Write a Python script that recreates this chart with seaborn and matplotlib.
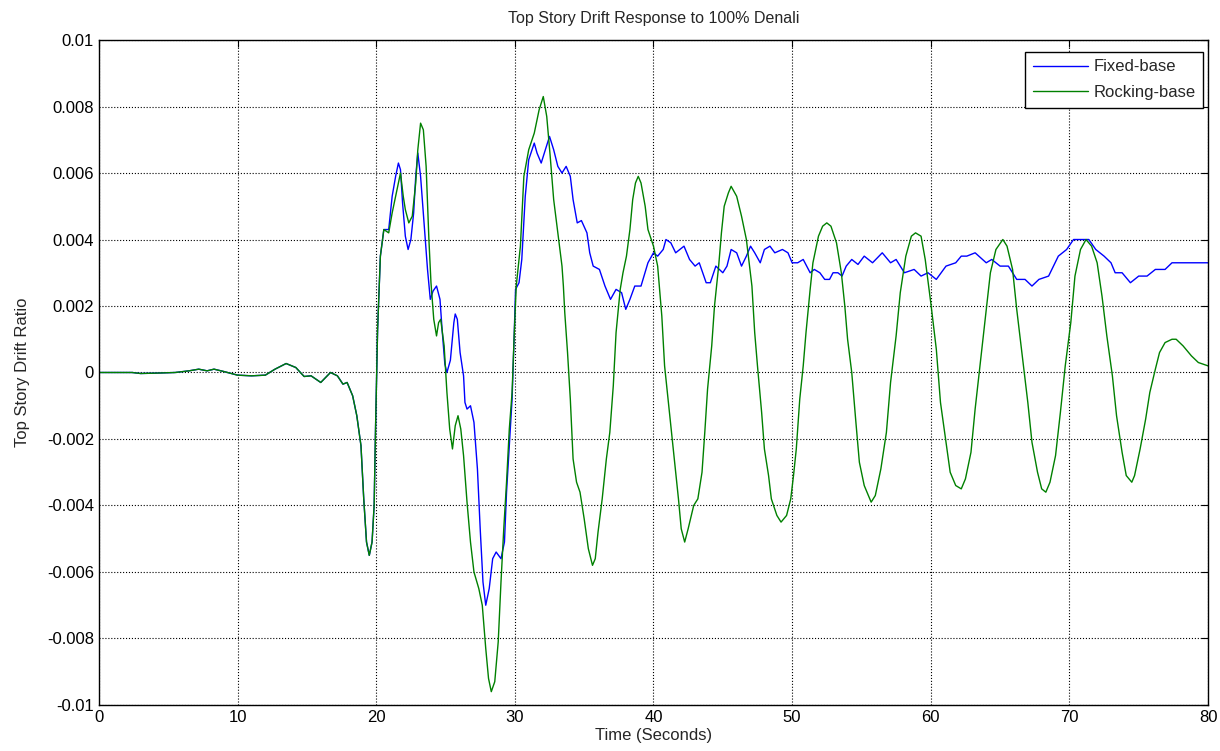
import matplotlib
matplotlib.use('Agg')
import matplotlib.pyplot as plt
import seaborn as sns
import pandas as pd
from matplotlib.ticker import FormatStrFormatter

# Time (s) and drift ratio
early_t = [0, 2.4, 3.0, 4.0, 5.5, 6.5, 7.2, 7.8, 8.3, 9.0, 10.0, 11.0, 12.0, 12.7,
           13.5, 14.2, 14.8, 15.3, 16.0, 16.7, 17.2, 17.6, 17.9, 18.3, 18.6, 18.9,
           19.1, 19.3, 19.5, 19.7, 19.85, 19.95, 20.1, 20.3]
early_v = [0, 0, -0.00003, -0.00002, 0, 0.00005, 0.0001, 0.00005, 0.0001, 0.00003,
           -0.00008, -0.0001, -0.00008, 0.0001, 0.00027, 0.00015, -0.00012, -0.0001,
           -0.0003, 0.0, -0.0001, -0.00035, -0.0003, -0.0007, -0.0013, -0.0022,
           -0.0038, -0.0051, -0.0055, -0.0051, -0.004, -0.0017, 0.0013, 0.0035]

fixed_t = [20.55, 20.9, 21.15, 21.4, 21.6, 21.75, 21.9, 22.1, 22.3, 22.5, 22.7, 22.85,
           23.0, 23.2, 23.45, 23.7, 23.9, 24.1, 24.35, 24.6, 24.75, 24.95, 25.1, 25.35,
           25.6, 25.7, 25.85, 26.05, 26.3, 26.4, 26.55, 26.8, 27.05, 27.3, 27.5, 27.7,
           27.9, 28.15, 28.4, 28.65, 29.0, 29.25, 29.4, 29.6, 29.8, 29.95, 30.05, 30.3,
           30.5, 30.75, 31.0, 31.4, 31.6, 31.9, 32.2, 32.5, 32.8, 33.1, 33.4, 33.7,
           34.0, 34.2, 34.5, 34.8, 35.2, 35.4, 35.65, 36.1, 36.5, 36.9, 37.3, 37.7,
           38.0, 38.3, 38.65, 39.1, 39.6, 40.0, 40.3, 40.7, 40.9, 41.25, 41.6, 42.2,
           42.6, 43.0, 43.3, 43.8, 44.1, 44.5, 45.0, 45.3, 45.6, 46.0, 46.35, 46.7,
           47.0, 47.3, 47.7, 48.0, 48.4, 48.75, 49.3, 49.7, 50.0, 50.4, 50.8, 51.3,
           51.6, 52.0, 52.35, 52.7, 52.95, 53.3, 53.6, 53.9, 54.3, 54.75, 55.2, 55.8,
           56.5, 57.1, 57.5, 58.1, 58.8, 59.3, 59.8, 60.4, 61.1, 61.8, 62.2, 62.6,
           63.2, 64.0, 64.4, 65.0, 65.6, 66.2, 66.8, 67.3, 67.8, 68.5, 69.2, 69.8,
           70.3, 70.9, 71.4, 71.9, 72.5, 73.0, 73.3, 73.8, 74.4, 75.0, 75.6, 76.2,
           76.9, 77.4, 78.1, 79.1, 79.7, 80.0]
fixed_v = [0.0043, 0.0043, 0.0053, 0.0059, 0.0063, 0.0061, 0.0051, 0.0041, 0.0037,
           0.004, 0.0048, 0.0059, 0.0066, 0.0059, 0.0045, 0.0031, 0.0022, 0.00245,
           0.0026, 0.0022, 0.0013, 0.00025, 0.0, 0.00037, 0.0015, 0.00176, 0.0016,
           0.0006, -0.0001, -0.0009, -0.0011, -0.001, -0.0015, -0.0029, -0.0047,
           -0.0063, -0.007, -0.0065, -0.0056, -0.0054, -0.0056, -0.0051, -0.0036,
           -0.0022, -0.0008, 0.0011, 0.0025, 0.0027, 0.0034, 0.0053, 0.0064, 0.0069,
           0.0066, 0.0063, 0.0067, 0.0071, 0.0067, 0.0062, 0.006, 0.0062, 0.0059,
           0.0052, 0.0045, 0.00457, 0.0042, 0.0036, 0.0032, 0.0031, 0.0026, 0.0022,
           0.0025, 0.0024, 0.0019, 0.0022, 0.0026, 0.0026, 0.0033, 0.0036, 0.0035,
           0.0037, 0.004, 0.0039, 0.0036, 0.0038, 0.0034, 0.0032, 0.0033, 0.0027,
           0.0027, 0.0032, 0.003, 0.0032, 0.0037, 0.0036, 0.0032, 0.0035, 0.0038,
           0.0036, 0.0033, 0.0037, 0.0038, 0.0036, 0.0037, 0.0036, 0.0033, 0.0033,
           0.0034, 0.003, 0.0031, 0.003, 0.0028, 0.0028, 0.003, 0.003, 0.0029, 0.0032,
           0.0034, 0.00325, 0.0035, 0.0033, 0.0036, 0.0033, 0.0034, 0.003, 0.0031,
           0.0029, 0.003, 0.0028, 0.0032, 0.0033, 0.0035, 0.0035, 0.0036, 0.0033,
           0.0034, 0.0032, 0.0032, 0.0028, 0.0028, 0.0026, 0.0028, 0.0029, 0.0035,
           0.0037, 0.004, 0.004, 0.004, 0.0037, 0.0035, 0.0033, 0.003, 0.003, 0.0027,
           0.0029, 0.0029, 0.0031, 0.0031, 0.0033, 0.0033, 0.0033, 0.0033, 0.0033]

rock_t = [20.55, 20.9, 21.15, 21.4, 21.75, 21.95, 22.1, 22.35, 22.6, 22.85, 23.0,
          23.2, 23.4, 23.6, 23.8, 23.95, 24.15, 24.35, 24.5, 24.65, 24.9, 25.1, 25.3,
          25.5, 25.7, 25.9, 26.1, 26.3, 26.55, 26.8, 27.05, 27.4, 27.65, 27.9, 28.1,
          28.3, 28.55, 28.8, 29.0, 29.2, 29.4, 29.6, 29.8, 29.95, 30.1, 30.4, 30.65,
          31.0, 31.4, 31.75, 32.05, 32.3, 32.55, 32.8, 33.1, 33.4, 33.5, 33.6, 33.8,
          34.0, 34.2, 34.45, 34.7, 35.0, 35.3, 35.6, 35.8, 36.0, 36.3, 36.6, 36.85,
          37.1, 37.3, 37.6, 37.8, 38.05, 38.3, 38.5, 38.7, 38.9, 39.1, 39.4, 39.6,
          40.0, 40.3, 40.6, 40.8, 41.05, 41.3, 41.5, 41.8, 42.0, 42.25, 42.5, 42.9,
          43.2, 43.5, 43.7, 43.9, 44.2, 44.4, 44.7, 44.9, 45.1, 45.4, 45.6, 46.0,
          46.35, 46.7, 47.1, 47.3, 47.5, 47.8, 48.0, 48.3, 48.5, 48.9, 49.2, 49.6,
          49.9, 50.1, 50.3, 50.55, 50.8, 51.0, 51.3, 51.5, 51.9, 52.2, 52.5, 52.8,
          53.2, 53.55, 53.8, 54.0, 54.3, 54.6, 54.85, 55.2, 55.7, 56.0, 56.4, 56.8,
          57.1, 57.5, 57.8, 58.2, 58.6, 58.9, 59.3, 59.6, 60.0, 60.4, 60.7, 61.1,
          61.4, 61.8, 62.2, 62.5, 62.9, 63.2, 63.6, 64.0, 64.3, 64.7, 65.2, 65.5,
          65.9, 66.2, 66.6, 67.0, 67.3, 67.7, 68.0, 68.3, 68.6, 69.0, 69.35, 69.7,
          70.1, 70.4, 70.8, 71.2, 71.6, 72.0, 72.35, 72.7, 73.1, 73.4, 73.8, 74.1,
          74.5, 74.7, 75.1, 75.5, 75.8, 76.2, 76.5, 76.9, 77.4, 77.7, 78.2, 78.8,
          79.3, 80.0]
rock_v = [0.0043, 0.0042, 0.0048, 0.0053, 0.006, 0.0053, 0.0049, 0.0045, 0.0047,
          0.0057, 0.0067, 0.0075, 0.0073, 0.0062, 0.004, 0.0027, 0.0016, 0.0011,
          0.0015, 0.0016, 0.0008, -0.0006, -0.0017, -0.0023, -0.0016, -0.0013,
          -0.0017, -0.0025, -0.0039, -0.0051, -0.006, -0.0065, -0.007, -0.0083,
          -0.0092, -0.0096, -0.0093, -0.0081, -0.0063, -0.0047, -0.0033, -0.0017,
          -0.0006, 0.0011, 0.0026, 0.0038, 0.0059, 0.0067, 0.0072, 0.0079, 0.0083,
          0.0077, 0.0065, 0.0052, 0.0042, 0.0032, 0.0026, 0.0018, 0.0006, -0.0008,
          -0.0026, -0.0033, -0.0036, -0.0044, -0.0053, -0.0058, -0.0056, -0.0048,
          -0.0038, -0.0026, -0.0018, -0.0004, 0.0012, 0.0025, 0.003, 0.0035, 0.0043,
          0.0052, 0.0057, 0.0059, 0.0057, 0.005, 0.0043, 0.0038, 0.0032, 0.0017,
          0.0002, -0.0008, -0.0018, -0.0026, -0.0038, -0.0047, -0.0051, -0.0047,
          -0.004, -0.0038, -0.003, -0.0018, -0.0005, 0.0008, 0.002, 0.0032, 0.0042,
          0.005, 0.0054, 0.0056, 0.0053, 0.0047, 0.004, 0.0026, 0.0012, 0.0002,
          -0.0012, -0.0023, -0.0031, -0.0038, -0.0043, -0.0045, -0.0043, -0.0038,
          -0.0031, -0.0023, -0.0008, 0.0002, 0.0012, 0.0025, 0.0033, 0.0041, 0.0044,
          0.0045, 0.0044, 0.0039, 0.003, 0.002, 0.001, 0.0, -0.0015, -0.0027,
          -0.0034, -0.0039, -0.0037, -0.0029, -0.0018, -0.0003, 0.0011, 0.0024,
          0.0035, 0.0041, 0.0042, 0.0041, 0.0034, 0.0021, 0.0007, -0.0009, -0.0021,
          -0.003, -0.0034, -0.0035, -0.0032, -0.0024, -0.0011, 0.0004, 0.0019, 0.003,
          0.0037, 0.004, 0.0038, 0.0031, 0.0019, 0.0005, -0.0009, -0.0021, -0.003,
          -0.0035, -0.0036, -0.0033, -0.0025, -0.0012, 0.0002, 0.0015, 0.0029,
          0.0037, 0.004, 0.0038, 0.0033, 0.0023, 0.0011, -0.0001, -0.0013, -0.0024,
          -0.0031, -0.0033, -0.0031, -0.0023, -0.0014, -0.0006, 0.0001, 0.0006,
          0.0009, 0.001, 0.001, 0.0008, 0.0005, 0.0003, 0.0002]

fixed = pd.DataFrame({'t': early_t + fixed_t, 'v': early_v + fixed_v})
rock = pd.DataFrame({'t': early_t + rock_t, 'v': early_v + rock_v})

sns.set_style('white')
plt.rcParams['font.family'] = ['Liberation Sans', 'DejaVu Sans']

fig = plt.figure(figsize=(12.2, 7.51), dpi=100)
ax = fig.add_axes([0.0811, 0.0613, 0.9091, 0.8854])

sns.lineplot(data=fixed, x='t', y='v', ax=ax, color='#0000ff', linewidth=1.0,
             sort=False, estimator=None, label='Fixed-base')
sns.lineplot(data=rock, x='t', y='v', ax=ax, color='#008000', linewidth=1.0,
             sort=False, estimator=None, label='Rocking-base')

ax.set_xlim(0, 80)
ax.set_ylim(-0.01, 0.01)
ax.set_xticks(range(0, 81, 10))
ax.set_yticks([i * 0.002 for i in range(-5, 6)])
ax.yaxis.set_major_formatter(FormatStrFormatter('%g'))
ax.grid(True, color='black', linestyle=':', linewidth=0.8)
ax.tick_params(direction='in', length=5, width=0.8, top=True, right=True,
               labelsize=12, colors='black')
for s in ax.spines.values():
    s.set_color('black')
    s.set_linewidth(1.0)

ax.set_title('Top Story Drift Response to 100% Denali', fontsize=11.5, pad=12)
ax.set_xlabel('Time (Seconds)', fontsize=12, labelpad=2)
ax.set_ylabel('Top Story Drift Ratio', fontsize=12, labelpad=12)

leg = ax.legend(loc='upper right', fontsize=12, frameon=True, fancybox=False,
                edgecolor='black', framealpha=1, handlelength=3.3,
                handletextpad=0.35, bbox_to_anchor=(0.9955, 0.982),
                borderaxespad=0.0, borderpad=0.45, labelspacing=0.65)
leg.get_frame().set_linewidth(1.0)

fig.savefig('out.png', dpi=100)
